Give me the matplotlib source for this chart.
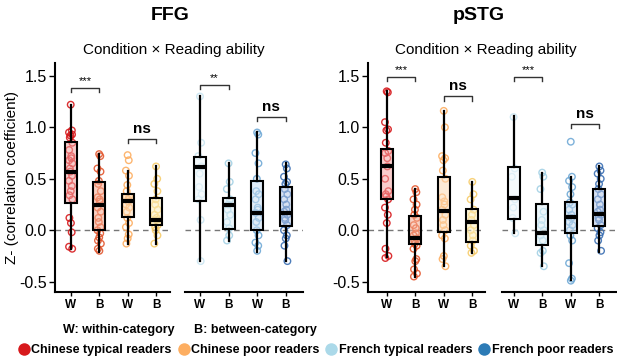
import numpy as np
import matplotlib.pyplot as plt
from matplotlib.lines import Line2D

plt.rcParams['font.family'] = ['Liberation Sans', 'DejaVu Sans']

conditions = ['W', 'B', 'W', 'B']
groups = ['Chinese typical readers', 'Chinese poor readers',
          'French typical readers', 'French poor readers']
group_colors = ['#d7191c', '#fdae61', '#abd9e9', '#2c7bb6']

# point colours / box fills, one per box (W, B) in each language block
cn_pt_colors = ['#d7191c', '#e4572e', '#fdae61', '#f7cc6a']
cn_fill_colors = ['#f3a5a3', '#f6ab91', '#fcd9b3', '#fcefbd']
fr_pt_colors = ['#c9e5f1', '#a3d1e5', '#6fa9d6', '#3b6fb3']
fr_fill_colors = ['#eef7fb', '#def0f7', '#c8ddf1', '#b6c9e8']

# ---- FFG data points ----
ffg_cn_typ_w = [1.22, 0.97, 0.95, 0.93, 0.92, 0.90, 0.85, 0.78, 0.72, 0.70, 0.68, 0.65,
                0.60, 0.57, 0.53, 0.48, 0.43, 0.38, 0.34, 0.30, 0.12, 0.07, -0.02, -0.16, -0.18]
ffg_cn_typ_b = [0.74, 0.72, 0.60, 0.57, 0.48, 0.45, 0.38, 0.32, 0.30, 0.28, 0.22, 0.18,
                0.12, 0.08, 0.03, 0.00, -0.03, -0.07, -0.10, -0.13, -0.18, -0.20]
ffg_cn_poor_w = [0.73, 0.68, 0.58, 0.53, 0.44, 0.38, 0.33, 0.32, 0.30, 0.28, 0.25, 0.22,
                 0.18, 0.12, 0.07, 0.03, -0.04, -0.08, -0.13]
ffg_cn_poor_b = [0.62, 0.50, 0.45, 0.38, 0.30, 0.25, 0.20, 0.15, 0.12, 0.10, 0.08, 0.05,
                 0.03, 0.00, -0.05, -0.13]
ffg_fr_typ_w = [1.30, 0.85, 0.72, 0.62, 0.55, 0.42, 0.35, 0.30, 0.10, -0.30]
ffg_fr_typ_b = [0.65, 0.47, 0.40, 0.30, 0.25, 0.20, 0.15, 0.08, 0.02, -0.05, -0.10]
ffg_fr_poor_w = [0.95, 0.93, 0.75, 0.65, 0.50, 0.38, 0.35, 0.30, 0.22, 0.20, 0.17, 0.12,
                 0.08, 0.00, -0.05, -0.12, -0.15, -0.20]
ffg_fr_poor_b = [0.64, 0.60, 0.52, 0.47, 0.45, 0.40, 0.35, 0.30, 0.25, 0.20, 0.18, 0.15,
                 0.12, 0.10, 0.05, 0.00, -0.05, -0.08, -0.15, -0.30]

# ---- pSTG data points ----
pstg_cn_typ_w = [1.35, 1.34, 1.05, 0.98, 0.97, 0.85, 0.77, 0.75, 0.70, 0.62, 0.50, 0.38,
                 0.35, 0.33, 0.30, 0.22, 0.15, 0.07, -0.18, -0.25, -0.27]
pstg_cn_typ_b = [0.40, 0.37, 0.30, 0.25, 0.20, 0.15, 0.12, 0.05, 0.02, -0.03, -0.05, -0.08,
                 -0.10, -0.13, -0.15, -0.18, -0.28, -0.30, -0.38, -0.42, -0.45]
pstg_cn_poor_w = [1.16, 1.00, 0.72, 0.70, 0.68, 0.58, 0.50, 0.32, 0.28, 0.25, 0.20, 0.15,
                  0.10, 0.05, 0.00, -0.05, -0.08, -0.25, -0.28, -0.35]
pstg_cn_poor_b = [0.47, 0.35, 0.30, 0.20, 0.15, 0.10, 0.05, 0.00, -0.05, -0.10, -0.15,
                  -0.20, -0.22]
pstg_fr_typ_w = [1.10, 0.60, 0.52, 0.30, 0.22, 0.12, -0.03]
pstg_fr_typ_b = [0.56, 0.52, 0.40, 0.18, 0.10, 0.05, 0.00, -0.05, -0.10, -0.20, -0.22, -0.35]
pstg_fr_poor_w = [0.86, 0.52, 0.48, 0.42, 0.35, 0.27, 0.25, 0.20, 0.15, 0.12, 0.08, 0.05,
                  0.00, -0.05, -0.10, -0.32, -0.47, -0.49]
pstg_fr_poor_b = [0.62, 0.58, 0.55, 0.50, 0.45, 0.40, 0.35, 0.30, 0.25, 0.20, 0.18, 0.15,
                  0.12, 0.10, 0.05, 0.02, -0.02, -0.05, -0.10, -0.20]

# box statistics: (whisker low, q1, median, q3, whisker high)
ffg_cn_box = [(-0.18, 0.26, 0.57, 0.86, 1.22), (-0.21, 0.00, 0.25, 0.47, 0.74),
              (-0.13, 0.13, 0.28, 0.35, 0.58), (-0.13, 0.05, 0.10, 0.31, 0.62)]
ffg_fr_box = [(-0.30, 0.28, 0.61, 0.71, 1.30), (-0.10, 0.01, 0.25, 0.31, 0.65),
              (-0.21, 0.00, 0.17, 0.48, 0.95), (-0.30, 0.045, 0.17, 0.42, 0.65)]
pstg_cn_box = [(-0.26, 0.30, 0.62, 0.79, 1.35), (-0.45, -0.13, -0.08, 0.14, 0.40),
               (-0.35, -0.015, 0.19, 0.52, 1.16), (-0.22, -0.11, 0.08, 0.21, 0.47)]
pstg_fr_box = [(-0.03, 0.11, 0.31, 0.61, 1.11), (-0.35, -0.145, -0.025, 0.255, 0.555),
               (-0.485, -0.03, 0.13, 0.27, 0.52), (-0.21, 0.04, 0.16, 0.40, 0.62)]

# significance brackets: (x1, x2, y, label)
ffg_cn_sig = [(1, 2, 1.38, '***'), (3, 4, 0.89, 'ns')]
ffg_fr_sig = [(1, 2, 1.41, '**'), (3, 4, 1.10, 'ns')]
pstg_cn_sig = [(1, 2, 1.49, '***'), (3, 4, 1.30, 'ns')]
pstg_fr_sig = [(1, 2, 1.49, '***'), (3, 4, 1.03, 'ns')]


def draw_block(ax, points, boxes, pt_colors, fill_colors, sigs):
    x = np.arange(1, 5)
    ax.axhline(0, color='#777777', lw=1, ls=(0, (4, 3)), zorder=0)
    for i, pts in enumerate(points):
        pts = np.array(pts)
        jit = 0.06 * np.sin(np.arange(len(pts)) * 2.4)
        ax.scatter(x[i] + jit, pts, s=22, facecolors='none', edgecolors=pt_colors[i],
                   linewidths=1.0, alpha=0.9, zorder=2)
    stats = [dict(whislo=b[0], q1=b[1], med=b[2], q3=b[3], whishi=b[4], fliers=[])
             for b in boxes]
    bp = ax.bxp(stats, positions=x, widths=0.42, patch_artist=True, showcaps=False,
                boxprops=dict(linewidth=1.5, edgecolor='black'),
                whiskerprops=dict(linewidth=1.6, color='black'),
                medianprops=dict(linewidth=3, color='black', solid_capstyle='butt'),
                manage_ticks=False, zorder=3)
    for patch, fc in zip(bp['boxes'], fill_colors):
        patch.set_facecolor((*plt.matplotlib.colors.to_rgb(fc), 0.55))
    for x1, x2, y, lab in sigs:
        ax.plot([x1, x1, x2, x2], [y - 0.04, y, y, y - 0.04], color='#333333', lw=1)
        if lab == 'ns':
            ax.text((x1 + x2) / 2, y + 0.03, lab, ha='center', va='bottom', fontsize=11,
                    fontweight='bold')
        else:
            ax.text((x1 + x2) / 2, y + 0.02, lab, ha='center', va='bottom', fontsize=8)
    ax.set_xticks(x)
    ax.set_xticklabels(conditions, fontweight='bold', fontsize=8.5)
    ax.tick_params(axis='x', length=3, width=1, pad=2)
    ax.set_ylim(-0.6, 1.625)
    ax.spines[['top', 'right']].set_visible(False)
    ax.spines['bottom'].set_linewidth(1.5)
    ax.spines['left'].set_linewidth(1.5)


fig = plt.figure(figsize=(6.17, 3.6), dpi=100)
W, H = 617, 360


def add_ax(x0, x1):
    return fig.add_axes([x0 / W, (H - 292) / H, (x1 - x0) / W, (292 - 63) / H])


blocks = [
    (55, 170, (0.448, 4.49), [ffg_cn_typ_w, ffg_cn_typ_b, ffg_cn_poor_w, ffg_cn_poor_b],
     ffg_cn_box, cn_pt_colors, cn_fill_colors, ffg_cn_sig, True),
    (185, 303, (0.475, 4.606), [ffg_fr_typ_w, ffg_fr_typ_b, ffg_fr_poor_w, ffg_fr_poor_b],
     ffg_fr_box, fr_pt_colors, fr_fill_colors, ffg_fr_sig, False),
    (368, 485, (0.345, 4.445), [pstg_cn_typ_w, pstg_cn_typ_b, pstg_cn_poor_w, pstg_cn_poor_b],
     pstg_cn_box, cn_pt_colors, cn_fill_colors, pstg_cn_sig, True),
    (502, 617, (0.595, 4.617), [pstg_fr_typ_w, pstg_fr_typ_b, pstg_fr_poor_w, pstg_fr_poor_b],
     pstg_fr_box, fr_pt_colors, fr_fill_colors, pstg_fr_sig, False),
]

for x0, x1, xl, pts, box, pc, fc, sig, show_y in blocks:
    ax = add_ax(x0, x1)
    draw_block(ax, pts, box, pc, fc, sig)
    ax.set_xlim(*xl)
    ax.set_yticks([-0.5, 0.0, 0.5, 1.0, 1.5])
    if show_y:
        ax.set_yticklabels(['-0.5', '0.0', '0.5', '1.0', '1.5'], fontsize=11.5)
        ax.tick_params(axis='y', length=4, width=1, pad=2)
    else:
        ax.spines['left'].set_visible(False)
        ax.tick_params(axis='y', left=False, labelleft=False)

fig.text(12 / W, 1 - 178 / H, 'Z- (correlation coefficient)', rotation=90,
         ha='center', va='center', fontsize=11)

fig.text(170 / W, 1 - 16 / H, 'FFG', ha='center', va='center', fontsize=14, fontweight='bold')
fig.text(479 / W, 1 - 16 / H, 'pSTG', ha='center', va='center', fontsize=14, fontweight='bold')
fig.text(174 / W, 1 - 50 / H, 'Condition × Reading ability', ha='center', va='center', fontsize=11)
fig.text(486 / W, 1 - 50 / H, 'Condition × Reading ability', ha='center', va='center', fontsize=11)

fig.text(63 / W, 1 - 330 / H, 'W: within-category', ha='left', va='center', fontsize=9,
         fontweight='bold')
fig.text(194 / W, 1 - 330 / H, 'B: between-category', ha='left', va='center', fontsize=9,
         fontweight='bold')

handles = [Line2D([], [], marker='o', ls='none', markersize=9, markerfacecolor=c,
                  markeredgecolor='none') for c in group_colors]
leg = fig.legend(handles, groups, loc='center', bbox_to_anchor=(0.5 + 7 / W, 1 - 350 / H),
                 ncol=4, frameon=False, handletextpad=0.1, columnspacing=0.45,
                 handlelength=1.0, borderaxespad=0, prop=dict(weight='bold', size=9))

fig.savefig('out.png', dpi=100)
